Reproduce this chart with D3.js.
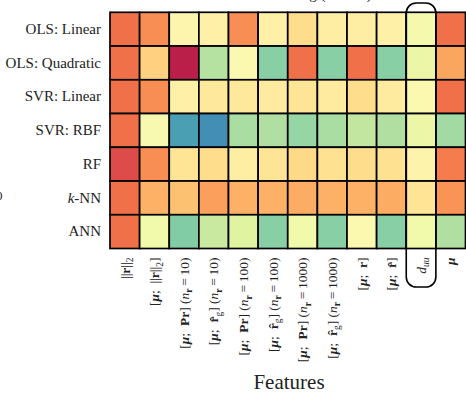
<!DOCTYPE html>
<html>
<head>
<meta charset="utf-8">
<script src="https://cdn.jsdelivr.net/npm/d3@7"></script>
<style>
  html, body { margin: 0; padding: 0; background: #fff; }
  svg { display: block; }
  text { font-family: "Liberation Serif", "DejaVu Serif", serif; fill: #222; }
</style>
</head>
<body>
<svg id="chart" width="466" height="393"></svg>
<script>
// Models (rows) and feature sets (columns)
const models = ["OLS: Linear", "OLS: Quadratic", "SVR: Linear", "SVR: RBF", "RF", "k-NN", "ANN"];
const features = ["norm", "mu_norm", "mu_Pr_10", "mu_rg_10", "mu_Pr_100", "mu_rg_100",
                  "mu_Pr_1000", "mu_rg_1000", "mu_r", "mu_rhat", "duu", "mu"];

// Normalised scores per model, one entry per feature set (0 = worst, 1 = best)
const olsLinear    = [0.20, 0.25, 0.48, 0.46, 0.25, 0.46, 0.40, 0.45, 0.45, 0.46, 0.54, 0.20];
const olsQuadratic = [0.20, 0.37, 0.05, 0.68, 0.50, 0.75, 0.20, 0.75, 0.20, 0.75, 0.57, 0.29];
const svrLinear    = [0.20, 0.25, 0.46, 0.43, 0.43, 0.44, 0.42, 0.44, 0.40, 0.44, 0.50, 0.20];
const svrRbf       = [0.20, 0.52, 0.86, 0.89, 0.70, 0.69, 0.73, 0.70, 0.66, 0.69, 0.57, 0.71];
const rf           = [0.13, 0.25, 0.42, 0.40, 0.45, 0.42, 0.39, 0.41, 0.40, 0.41, 0.47, 0.22];
const knn          = [0.20, 0.31, 0.34, 0.28, 0.31, 0.31, 0.30, 0.31, 0.31, 0.30, 0.42, 0.26];
const ann          = [0.20, 0.55, 0.76, 0.65, 0.60, 0.75, 0.55, 0.75, 0.50, 0.75, 0.55, 0.69];

const scores = [olsLinear, olsQuadratic, svrLinear, svrRbf, rf, knn, ann];
const highlighted = "duu";

const cells = [];
scores.forEach((row, i) => row.forEach((v, j) => cells.push({ model: models[i], feature: features[j], value: v })));

const svg = d3.select("#chart");
const gridLeft = 110, gridRight = 465.5, gridTop = 12.3, gridBottom = 248.5;

const x = d3.scaleBand().domain(features).range([gridLeft, gridRight]);
const y = d3.scaleBand().domain(models).range([gridTop, gridBottom]);
const color = d3.scaleSequential(d3.interpolateSpectral).domain([0, 1]);

// Heatmap cells
svg.append("g").selectAll("rect").data(cells).join("rect")
  .attr("x", d => x(d.feature))
  .attr("y", d => y(d.model))
  .attr("width", x.bandwidth())
  .attr("height", y.bandwidth())
  .attr("fill", d => color(d.value))
  .attr("stroke", "#000")
  .attr("stroke-width", 1.7);

// Row labels
const yAxis = svg.append("g")
  .attr("transform", `translate(${gridLeft},0)`)
  .call(d3.axisLeft(y).tickSize(0).tickPadding(9));
yAxis.select(".domain").remove();
yAxis.selectAll("text")
  .style("font-family", "'Liberation Serif', serif")
  .style("font-size", "15px")
  .attr("fill", "#222")
  .each(function (d) {
    if (d === "k-NN") {
      const t = d3.select(this).text(null);
      t.append("tspan").style("font-style", "italic").text("k");
      t.append("tspan").text("-NN");
    }
  });

// Column labels, built from small rich-text parts
const B = (s) => ({ t: s, w: "bold" });
const BI = (s) => ({ t: s, w: "bold", i: true });
const I = (s) => ({ t: s, i: true });
const SUB = (s, extra) => Object.assign({ t: s, sub: true }, extra || {});
const P = (s) => ({ t: s });
const mu = BI("\u03bc");
const bars = P("||");
const nr = (n) => [P(" ("), I("n"), SUB("r", { w: "bold" }), P("\u2009=\u2009" + n + ")")];
const labelParts = {
  norm: [bars, B("r"), bars, SUB("2")],
  mu_norm: [P("["), mu, P(";  "), bars, B("r"), bars, SUB("2"), P("]")],
  mu_Pr_10: [P("["), mu, P(";  "), B("Pr"), P("]")].concat(nr(10)),
  mu_rg_10: [P("["), mu, P(";  "), B("r\u0302"), SUB("g"), P("]")].concat(nr(10)),
  mu_Pr_100: [P("["), mu, P(";  "), B("Pr"), P("]")].concat(nr(100)),
  mu_rg_100: [P("["), mu, P(";  "), B("r\u0302"), SUB("g"), P("]")].concat(nr(100)),
  mu_Pr_1000: [P("["), mu, P(";  "), B("Pr"), P("]")].concat(nr(1000)),
  mu_rg_1000: [P("["), mu, P(";  "), B("r\u0302"), SUB("g"), P("]")].concat(nr(1000)),
  mu_r: [P("["), mu, P(";  "), B("r"), P("]")],
  mu_rhat: [P("["), mu, P(";  "), B("r\u0302"), P("]")],
  duu: [I("d"), SUB("uu", { i: true })],
  mu: [mu]
};

const xLabels = svg.append("g");
features.forEach(f => {
  const cx = x(f) + x.bandwidth() / 2;
  const t = xLabels.append("text")
    .attr("transform", `translate(${cx},${gridBottom + 9}) rotate(-90)`)
    .attr("text-anchor", "end")
    .attr("dy", "0.35em")
    .attr("xml:space", "preserve")
    .style("white-space", "pre")
    .style("font-size", "13.5px");
  let shifted = false;
  labelParts[f].forEach(p => {
    const s = t.append("tspan").text(p.t);
    if (p.w) s.style("font-weight", p.w);
    if (p.i) s.style("font-style", "italic");
    if (p.sub) { s.attr("dy", shifted ? 0 : 3.5).style("font-size", "9.5px"); shifted = true; }
    else if (shifted) { s.attr("dy", -3.5); shifted = false; }
  });
});

// Outline around the highlighted feature column and its label
svg.append("rect")
  .attr("x", x(highlighted))
  .attr("y", 3)
  .attr("width", x.bandwidth())
  .attr("height", 287 - 3)
  .attr("rx", 10)
  .attr("fill", "none")
  .attr("stroke", "#000")
  .attr("stroke-width", 1.6);

// Axis title
svg.append("text")
  .attr("x", 289).attr("y", 389)
  .attr("text-anchor", "middle")
  .style("font-size", "21px")
  .text("Features");

// Chart title (above the visible area)
svg.append("text")
  .attr("x", 300).attr("y", -1.5)
  .attr("text-anchor", "middle")
  .style("font-size", "15px")
  .text("Model ranking (test set)");

// Neighbouring panel tick label at the far left
svg.append("text")
  .attr("x", -4).attr("y", 200)
  .style("font-size", "13px")
  .attr("fill", "#666")
  .text("0");
</script>
</body>
</html>
